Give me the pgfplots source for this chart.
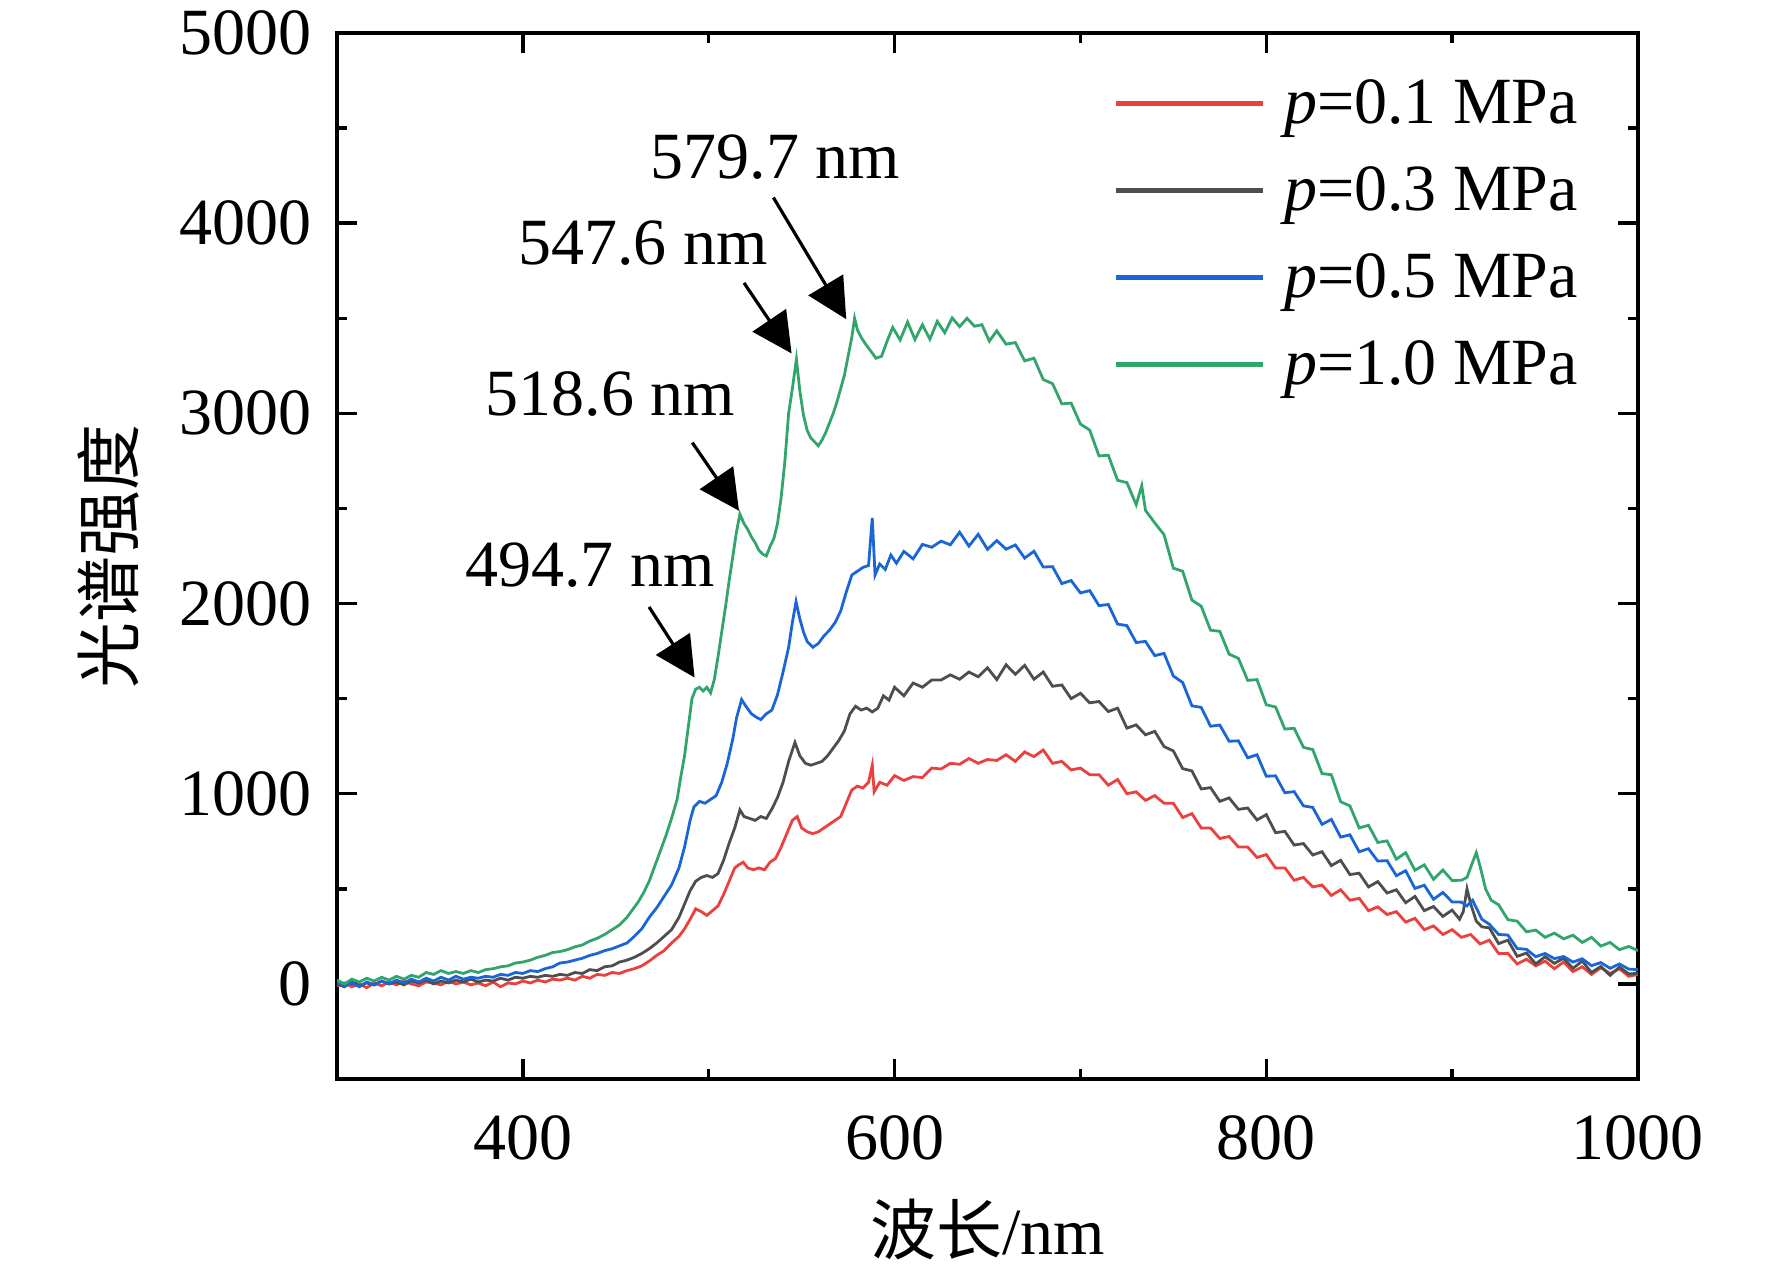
\documentclass[border=0pt]{standalone}
\usepackage{fontspec}
\setmainfont{Liberation Serif}
\newfontfamily\cjk{Noto Sans CJK SC}
\usepackage{pgfplots}
\pgfplotsset{compat=1.18}
\usetikzlibrary{arrows.meta}
\definecolor{cred}{RGB}{234,64,62}
\definecolor{cgray}{RGB}{78,78,78}
\definecolor{cblue}{RGB}{27,102,214}
\definecolor{cgreen}{RGB}{50,165,108}
\begin{document}
\fontsize{16.5}{19}\selectfont
\begin{tikzpicture}
\path[use as bounding box] (-84.25pt,-48.25pt) rectangle (358.75pt,269.75pt);
\begin{axis}[
  at={(0,0)}, anchor=south west,
  scale only axis, width=325.25pt, height=261.5pt,
  xmin=300, xmax=1000, ymin=-500, ymax=5000,
  xtick={400,600,800,1000}, minor x tick num=1,
  ytick={0,1000,2000,3000,4000,5000}, minor y tick num=1,
  tick align=inside, tick pos=both,
  major tick length=5pt, minor tick length=2.5pt,
  axis line style={line width=0.85pt},
  every tick/.style={line width=0.85pt, black},
  /pgf/number format/assume math mode=true,
  /pgf/number format/1000 sep={},
  scaled ticks=false,
  xticklabel style={yshift=-3.5pt},
  yticklabel style={xshift=-0.75pt},
  xlabel={{\cjk 波长}/nm},
  ylabel={{\cjk 光谱强度}},
  xlabel style={at={(axis description cs:0.5,-0.1434)}, anchor=center},
  ylabel style={at={(axis description cs:-0.176,0.5)}, anchor=center},
  legend cell align=left,
  legend image code/.code={\draw[#1, line width=1.3pt] (0pt,1pt) -- (36.75pt,1pt);},
  legend style={draw=none, fill=none, inner sep=0pt,
    at={(axis description cs:0.5965,0.96)}, anchor=north west,
    row sep=5.75pt, nodes={inner sep=0pt, text height=12pt, text depth=4pt},
    /tikz/every odd column/.append style={column sep=4.5pt}},
]
% p = 0.1 MPa
\addplot[color=cred, line width=0.7pt] table {
300 -10
304 5
308 -15
312 0
316 -20
320 5
324 -10
328 10
332 -5
336 15
340 0
344 -10
348 10
352 5
356 -5
360 15
364 0
368 10
372 -5
376 5
380 -10
384 10
388 -15
392 5
396 0
400 15
404 5
408 20
412 10
416 25
420 20
424 30
428 20
432 40
436 30
440 50
444 45
448 60
452 55
456 70
460 80
464 95
468 120
472 150
476 175
480 215
484 250
487 290
490 340
493 395
496 380
499 360
502 385
505 410
508 470
511 540
514 610
516 625
518.6 640
521 610
524 600
527 610
530 600
533 640
536 660
539 720
542 790
545 860
547.6 880
550 820
553 800
556 790
559 800
562 820
565 840
568 860
571 880
574 950
577 1020
580 1040
583 1030
586 1060
588 1150
589 1010
592 1060
596 1045
600 1095
605 1070
610 1090
615 1085
620 1135
625 1130
630 1160
635 1155
640 1185
645 1160
650 1180
655 1175
660 1205
665 1170
670 1220
675 1195
680 1230
685 1160
690 1170
695 1125
700 1135
705 1100
710 1100
715 1045
720 1075
725 1000
730 1010
735 965
740 990
745 950
750 950
755 875
760 895
765 820
770 820
775 765
780 775
785 720
790 720
795 665
800 680
805 610
810 610
815 545
820 560
825 510
830 520
835 465
840 495
845 440
850 450
855 385
860 405
865 365
870 380
875 325
880 345
885 285
890 305
895 260
900 285
905 245
910 260
915 210
920 230
925 160
930 160
935 105
940 130
945 95
950 120
955 80
960 115
965 65
970 90
975 50
980 85
985 55
990 80
995 40
1000 50
};
\addlegendentry{\textit{p}=0.1 MPa}
% p = 0.3 MPa
\addplot[color=cgray, line width=0.7pt] table {
300 0
304 -15
308 10
312 -10
316 5
320 -5
324 15
328 0
332 10
336 -5
340 15
344 5
348 20
352 0
356 15
360 5
364 20
368 10
372 25
376 10
380 20
384 15
388 30
392 20
396 35
400 30
404 40
408 35
412 45
416 40
420 50
424 45
428 60
432 55
436 75
440 70
444 90
448 95
452 115
456 125
460 140
464 160
468 185
472 215
476 250
480 285
484 350
487 420
490 490
493 540
496 560
499 570
502 560
505 580
508 650
511 740
514 820
516.8 915
519 880
522 870
525 860
528 880
531 870
534 920
537 980
540 1060
543 1170
546.4 1270
549 1200
552 1160
555 1150
558 1160
561 1170
564 1200
567 1240
570 1280
573 1330
576 1420
579 1460
582 1440
585 1450
588 1430
591 1450
594 1515
597 1492
600 1560
605 1515
610 1582
615 1560
620 1598
625 1598
630 1625
635 1602
640 1640
645 1615
650 1662
655 1600
660 1678
665 1628
670 1675
675 1602
680 1640
685 1565
690 1572
695 1500
700 1528
705 1478
710 1485
715 1432
720 1450
725 1345
730 1362
735 1310
740 1328
745 1248
750 1225
755 1132
760 1120
765 1025
770 1032
775 960
780 978
785 918
790 925
795 862
800 890
805 795
810 802
815 730
820 738
825 678
830 695
835 622
840 650
845 575
850 582
855 510
860 538
865 478
870 495
875 427
880 460
885 385
890 407
895 355
900 388
904 340
906 380
908 500
910 420
913 330
916 300
920 295
925 212
930 230
935 145
940 162
945 105
950 143
955 108
960 135
965 82
970 120
975 60
980 92
985 45
990 88
995 53
1000 55
};
\addlegendentry{\textit{p}=0.3 MPa}
% p = 0.5 MPa
\addplot[color=cblue, line width=0.7pt] table {
300 10
304 -10
308 5
312 -15
316 10
320 -5
324 15
328 0
332 20
336 5
340 25
344 10
348 30
352 15
356 35
360 20
364 40
368 25
372 35
376 30
380 40
384 35
388 50
392 45
396 60
400 55
404 70
408 65
412 80
416 90
420 110
424 115
428 125
432 135
436 150
440 160
444 175
448 185
452 200
456 215
460 250
464 290
468 350
472 400
476 460
480 520
484 610
487 720
490 860
492 930
495 960
498 950
501 970
504 990
507 1060
510 1160
513 1290
515 1400
517.7 1495
520 1460
523 1420
526 1400
528 1390
531 1420
534 1440
537 1520
540 1640
543 1770
545 1900
547 2010
549 1920
551 1850
553 1800
556 1770
559 1790
562 1830
565 1860
568 1900
571 1960
574 2060
577 2150
580 2170
583 2190
586 2200
588 2450
589.5 2150
592 2208
595 2179
598 2255
601 2212
605 2274
610 2235
615 2311
620 2296
625 2328
630 2309
635 2375
640 2302
645 2364
650 2285
655 2331
660 2286
665 2308
670 2239
675 2275
680 2192
685 2194
690 2105
695 2121
700 2056
705 2068
710 1989
715 1995
720 1892
725 1884
730 1795
735 1801
740 1726
745 1738
750 1619
755 1585
760 1462
765 1454
770 1355
775 1361
780 1276
785 1278
790 1189
795 1205
800 1092
805 1094
810 1005
815 1011
820 936
825 928
830 839
835 865
840 772
845 784
850 695
855 711
860 646
865 648
870 569
875 595
880 502
885 519
890 445
895 481
900 431
905 430
908 410
911 440
913 400
916 340
920 314
925 260
930 257
935 186
940 182
945 143
950 160
955 133
960 144
965 115
970 132
975 96
980 112
985 82
990 105
995 78
1000 75
};
\addlegendentry{\textit{p}=0.5 MPa}
% p = 1.0 MPa
\addplot[color=cgreen, line width=0.7pt] table {
300 20
304 0
308 25
312 10
316 30
320 15
324 35
328 20
332 40
336 25
340 45
344 35
348 60
352 50
356 70
360 55
364 65
368 55
372 70
376 60
380 75
384 80
388 90
392 95
396 110
400 115
404 125
408 140
412 150
416 165
420 170
424 180
428 195
432 205
436 225
440 240
444 260
448 285
452 310
456 350
459 390
462 430
465 480
468 540
471 620
474 700
477 780
480 870
483 970
485 1090
487 1200
489 1350
491 1500
493 1550
495 1560
497 1540
499 1560
501 1530
503 1600
505 1720
507 1850
509 1980
511 2120
513 2250
515 2380
516.8 2470
519 2420
521 2390
523 2350
525 2320
527 2280
529 2260
531 2250
533 2300
535 2340
537 2420
539 2560
541 2750
543 3000
545 3130
547.2 3285
549 3120
551 2990
553 2910
555 2870
557 2850
559 2830
561 2860
563 2900
565 2950
567 3000
569 3060
571 3130
573 3200
575 3300
577 3400
578.5 3500
580 3440
582 3400
584 3370
587 3330
590 3290
593 3300
596 3380
599 3452
603 3386
607 3480
611 3388
615 3466
619 3390
623 3484
627 3424
631 3502
635 3456
639 3500
643 3458
647 3466
651 3380
655 3434
660 3364
665 3372
670 3276
675 3290
680 3178
685 3156
690 3050
695 3054
700 2944
705 2912
710 2776
715 2780
720 2648
725 2636
730 2520
733 2620
735 2490
740 2424
745 2362
750 2186
755 2170
760 2018
765 1986
770 1860
775 1854
780 1734
785 1712
790 1596
795 1600
800 1468
805 1456
810 1340
815 1344
820 1244
825 1232
830 1106
835 1100
840 958
845 936
850 820
855 834
860 744
865 752
870 656
875 690
880 598
885 626
890 550
895 599
900 544
905 545
908 560
911 640
913 690
915 620
918 500
921 440
925 416
930 338
935 330
940 274
945 283
950 245
955 267
960 237
965 256
970 218
975 245
980 199
985 218
990 180
995 197
1000 175
};
\addlegendentry{\textit{p}=1.0 MPa}
% annotations
\node at (axis cs:536,4345) {579.7 nm};
\node at (axis cs:464.5,3895) {547.6 nm};
\node at (axis cs:447,3100) {518.6 nm};
\node at (axis cs:436.2,2203) {494.7 nm};
\draw[line width=0.8pt, -{Triangle[length=10pt,width=10pt]}] (axis cs:534.8,4135) -- (axis cs:574,3495);
\draw[line width=0.8pt, -{Triangle[length=10pt,width=10pt]}] (axis cs:519,3686) -- (axis cs:544.6,3315);
\draw[line width=0.8pt, -{Triangle[length=10pt,width=10pt]}] (axis cs:491.2,2846) -- (axis cs:516.3,2488);
\draw[line width=0.8pt, -{Triangle[length=10pt,width=10pt]}] (axis cs:467.9,1982) -- (axis cs:492.4,1611);
\end{axis}
\end{tikzpicture}
\end{document}
